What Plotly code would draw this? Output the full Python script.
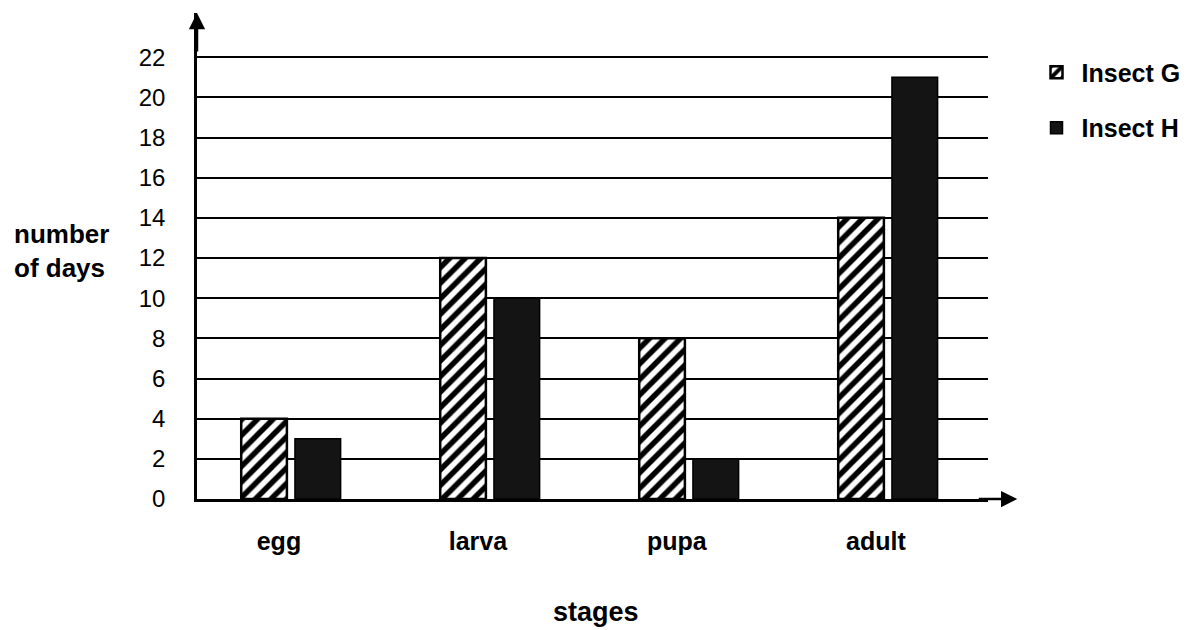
import plotly.graph_objects as go

stages = ["egg", "larva", "pupa", "adult"]
insect_g = [4, 12, 8, 14]
insect_h = [3, 10, 2, 21]
y_ticks = [0, 2, 4, 6, 8, 10, 12, 14, 16, 18, 20, 22]

FONT = "Liberation Sans, Arial, sans-serif"

fig = go.Figure()
fig.add_trace(go.Bar(
    name="<b>Insect G</b>", x=stages, y=insect_g, legendgroup="g",
    marker=dict(color="white", line=dict(color="black", width=2.5),
                pattern=dict(shape="/", fgcolor="black", bgcolor="white",
                             fgopacity=1, size=11, solidity=0.5)),
))
fig.add_trace(go.Bar(
    name="<b>Insect H</b>", x=stages, y=insect_h, legendgroup="h",
    marker=dict(color="#141414", line=dict(color="black", width=1.5)),
))

fig.update_layout(
    width=1191, height=630,
    margin=dict(l=189, r=211, t=5, b=139),
    plot_bgcolor="white", paper_bgcolor="white",
    barmode="group", bargap=0.46, bargroupgap=0.15,
    font=dict(family=FONT, color="black", size=24),
    legend=dict(x=1.055, y=0.925, xanchor="left", yanchor="top",
                font=dict(size=25, family=FONT), itemwidth=40,
                tracegroupgap=20, bgcolor="rgba(0,0,0,0)"),
    showlegend=True,
)
fig.update_xaxes(
    type="category", range=[-0.472, 3.503],
    showline=True, linecolor="black", linewidth=2.5,
    showgrid=False, ticks="", ticklabelstandoff=18, ticklabelshift=-12,
    tickfont=dict(size=25, family=FONT), tickprefix="<b>", ticksuffix="</b>",
)
fig.update_yaxes(
    range=[0, 24.2], tickvals=y_ticks,
    showline=True, linecolor="black", linewidth=2.5,
    showgrid=True, gridcolor="black", gridwidth=2,
    zeroline=False, ticks="", ticklabelstandoff=24,
    tickfont=dict(size=24, family=FONT),
)

# axis arrows
fig.add_annotation(xref="paper", yref="paper", x=0, y=1.0, ax=0, ay=40,
                   text="", showarrow=True, arrowhead=2, arrowsize=1.3,
                   arrowwidth=2.5, arrowcolor="black")
fig.add_annotation(xref="paper", yref="paper", x=1.037, y=0, ax=-40, ay=0,
                   text="", showarrow=True, arrowhead=2, arrowsize=1.3,
                   arrowwidth=2.5, arrowcolor="black")

# horizontal y-axis label
fig.add_annotation(xref="paper", yref="paper", x=-0.234, y=0.51,
                   xanchor="left", yanchor="middle", align="left",
                   text="<b>number<br>of days</b>", showarrow=False,
                   font=dict(size=26, family=FONT))
# x-axis title
fig.add_annotation(xref="paper", yref="paper", x=0.504, y=-0.232,
                   xanchor="center", yanchor="middle",
                   text="<b>stages</b>", showarrow=False,
                   font=dict(size=27, family=FONT))

fig.write_html("out.html")
